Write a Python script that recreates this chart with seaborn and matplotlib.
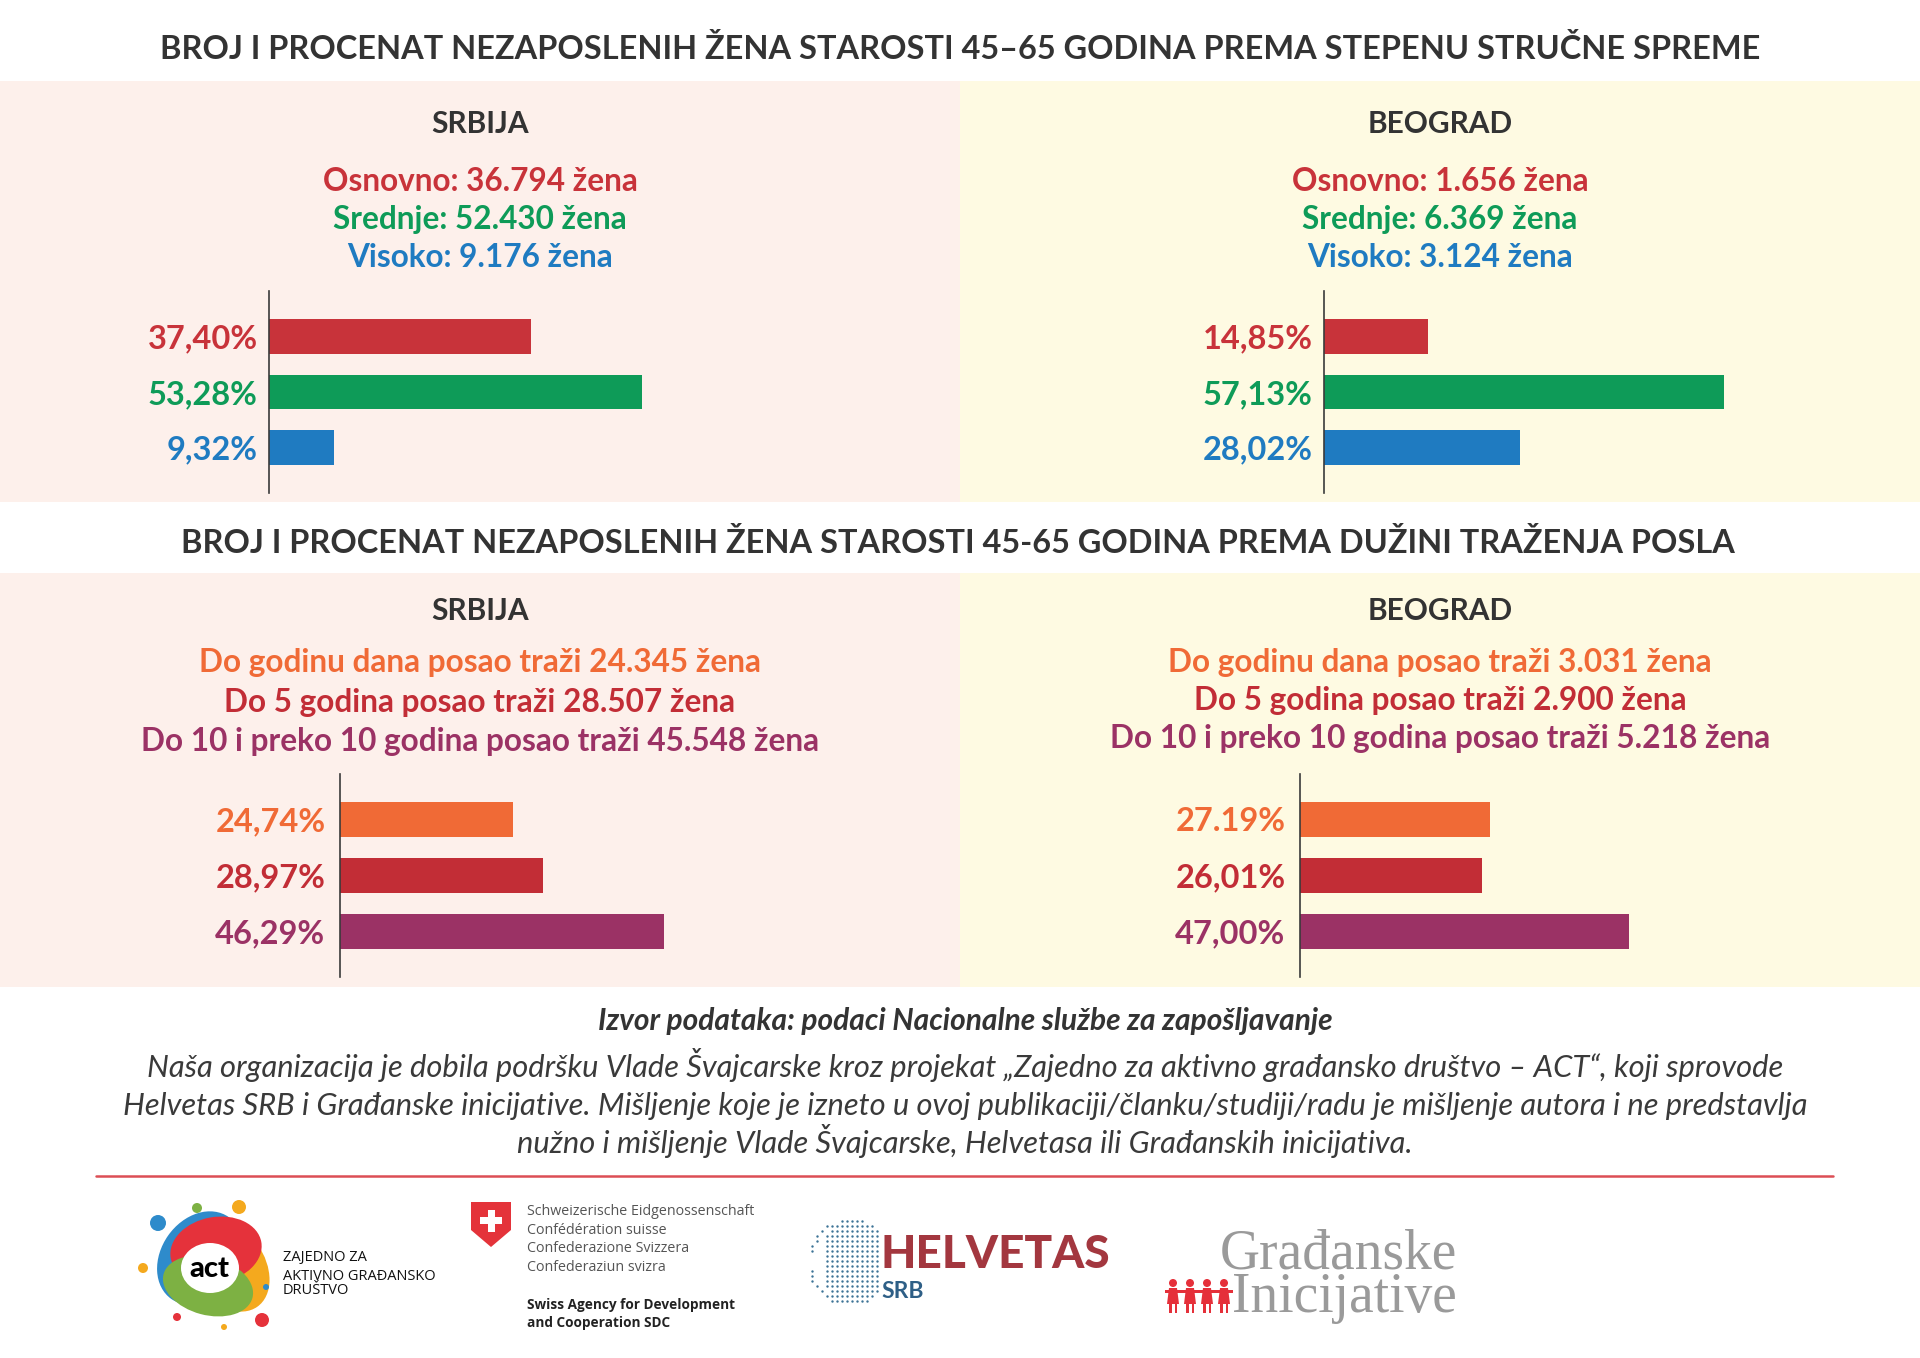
import numpy as np
import seaborn as sns
import matplotlib.pyplot as plt
from matplotlib.patches import Rectangle, Ellipse, Polygon, Circle

# ---- data ----
edu_names = ["Osnovno", "Srednje", "Visoko"]
edu_count_srb = ["36.794", "52.430", "9.176"]
edu_count_bg = ["1.656", "6.369", "3.124"]
edu_pct_srb = [37.40, 53.28, 9.32]
edu_pct_bg = [14.85, 57.13, 28.02]
edu_lab_srb = ["37,40%", "53,28%", "9,32%"]
edu_lab_bg = ["14,85%", "57,13%", "28,02%"]

dur_names = ["Do godinu dana posao traži", "Do 5 godina posao traži",
             "Do 10 i preko 10 godina posao traži"]
dur_count_srb = ["24.345", "28.507", "45.548"]
dur_count_bg = ["3.031", "2.900", "5.218"]
dur_pct_srb = [24.74, 28.97, 46.29]
dur_pct_bg = [27.19, 26.01, 47.00]
dur_lab_srb = ["24,74%", "28,97%", "46,29%"]
dur_lab_bg = ["27.19%", "26,01%", "47,00%"]

title_edu = "BROJ I PROCENAT NEZAPOSLENIH ŽENA STAROSTI 45–65 GODINA PREMA STEPENU STRUČNE SPREME"
title_dur = "BROJ I PROCENAT NEZAPOSLENIH ŽENA STAROSTI 45-65 GODINA PREMA DUŽINI TRAŽENJA POSLA"
source = "Izvor podataka: podaci Nacionalne službe za zapošljavanje"
disclaimer = [
    "Naša organizacija je dobila podršku Vlade Švajcarske kroz projekat „Zajedno za aktivno građansko društvo – ACT“, koji sprovode",
    "Helvetas SRB i Građanske inicijative. Mišljenje koje je izneto u ovoj publikaciji/članku/studiji/radu je mišljenje autora i ne predstavlja",
    "nužno i mišljenje Vlade Švajcarske, Helvetasa ili Građanskih inicijativa.",
]

RED = "#C8333A"
GREEN = "#0E9B58"
BLUE = "#1F7BC1"
ORANGE = "#F06A36"
DRED = "#C22D36"
PURPLE = "#9B3265"
DARK = "#333333"
edu_colors = [RED, GREEN, BLUE]
dur_colors = [ORANGE, DRED, PURPLE]

sns.set_theme(style="white")
plt.rcParams["font.family"] = ["Lato", "DejaVu Sans"]

W, H = 1920, 1358
fig = plt.figure(figsize=(W / 100, H / 100), dpi=100)
fig.patch.set_facecolor("white")

# full-figure axes in pixel coordinates for panels, text and logos
deco = fig.add_axes([0, 0, 1, 1])
deco.set_xlim(0, W)
deco.set_ylim(H, 0)
deco.axis("off")

# background panels
for y0, y1 in [(81, 502), (573, 987)]:
    deco.add_patch(Rectangle((0, y0), 960, y1 - y0, color="#FDF0EB", lw=0))
    deco.add_patch(Rectangle((960, y0), 960, y1 - y0, color="#FEFAE2", lw=0))

deco.text(960, 59, title_edu, ha="center", va="baseline", fontsize=23.4,
          fontweight="bold", color=DARK)
deco.text(958, 553, title_dur, ha="center", va="baseline", fontsize=23.4,
          fontweight="bold", color=DARK)

for cx, region in [(480, "SRBIJA"), (1440, "BEOGRAD")]:
    deco.text(cx, 133, region, ha="center", va="baseline", fontsize=21.5,
              fontweight="bold", color=DARK)
    deco.text(cx, 620, region, ha="center", va="baseline", fontsize=21.5,
              fontweight="bold", color=DARK)

edu_counts = {480: edu_count_srb, 1440: edu_count_bg}
for cx, counts in edu_counts.items():
    for name, cnt, col, yb in zip(edu_names, counts, edu_colors, [191, 229, 267]):
        deco.text(cx, yb, f"{name}: {cnt} žena", ha="center", va="baseline",
                  fontsize=22.7, fontweight="bold", color=col)

dur_counts = {480: (dur_count_srb, [672, 712, 751]), 1440: (dur_count_bg, [672, 710, 748])}
for cx, (counts, ys) in dur_counts.items():
    for name, cnt, col, yb in zip(dur_names, counts, dur_colors, ys):
        deco.text(cx, yb, f"{name} {cnt} žena", ha="center", va="baseline",
                  fontsize=22.8, fontweight="bold", color=col)


def bar_chart(axis_x, top, bottom, pct, labels, colors, pad):
    ax = fig.add_axes([axis_x / W, 1 - bottom / H, 560 / W, (bottom - top) / H])
    ax.set_facecolor("none")
    sns.barplot(x=pct, y=labels, hue=labels, palette=colors, legend=False,
                orient="h", width=0.625, saturation=1, linewidth=0, ax=ax)
    ax.set_xlim(0, 80)
    ax.set_ylim(2.81, -0.81)
    ax.set_xticks([])
    ax.set_xlabel("")
    ax.set_ylabel("")
    for s in ["top", "right", "bottom"]:
        ax.spines[s].set_visible(False)
    ax.spines["left"].set_color("#3a3a3a")
    ax.spines["left"].set_linewidth(1.2)
    ax.tick_params(axis="y", length=0, pad=pad)
    for t, c in zip(ax.get_yticklabels(), colors):
        t.set_color(c)
        t.set_fontsize(23.5)
        t.set_fontweight("bold")
    return ax


bar_chart(269, 291, 493, edu_pct_srb, edu_lab_srb, edu_colors, 8)
bar_chart(1324, 291, 493, edu_pct_bg, edu_lab_bg, edu_colors, 8)
bar_chart(340, 774, 977, dur_pct_srb, dur_lab_srb, dur_colors, 10.5)
bar_chart(1300, 774, 977, dur_pct_bg, dur_lab_bg, dur_colors, 10.5)

# source + disclaimer
deco.text(965, 1030, source, ha="center", va="baseline", fontsize=21.5,
          fontweight="bold", style="italic", color=DARK)
for line, yb in zip(disclaimer, [1077, 1115, 1153]):
    deco.text(965, yb, line, ha="center", va="baseline", fontsize=22.2,
              style="italic", fontweight="normal", color="#3a3a3a")

deco.plot([96, 1833], [1176, 1176], color="#DC4E55", lw=1.8)

# ---- logos (rough) ----
# ACT
deco.add_patch(Ellipse((200, 1258), 78, 100, angle=35, color="#2E8BCB", lw=0))
deco.add_patch(Ellipse((228, 1265), 72, 102, angle=-35, color="#F4A91E", lw=0))
deco.add_patch(Ellipse((216, 1250), 92, 66, angle=-10, color="#E5323B", lw=0))
deco.add_patch(Ellipse((208, 1286), 92, 58, angle=15, color="#7DB143", lw=0))
deco.add_patch(Ellipse((210, 1268), 58, 50, color="white", lw=0))
deco.text(209, 1277, "act", ha="center", va="baseline", fontsize=21,
          fontweight="black", color="black")
for (x, y, r, c) in [(158, 1223, 8, "#2E8BCB"), (197, 1208, 5, "#7DB143"),
                     (239, 1207, 7, "#F4A91E"), (143, 1268, 5, "#F4A91E"),
                     (266, 1287, 3, "#2E8BCB"), (177, 1317, 4, "#E5323B"),
                     (224, 1327, 3, "#F4A91E"), (262, 1320, 7, "#E5323B")]:
    deco.add_patch(Circle((x, y), r, color=c, lw=0))
for line, yb in zip(["ZAJEDNO ZA", "AKTIVNO GRAĐANSKO", "DRUŠTVO"], [1261, 1280, 1294]):
    deco.text(283, yb, line, ha="left", va="baseline", fontsize=10.5,
              family=["Open Sans", "DejaVu Sans"], color="#111111")

# Swiss shield + text
deco.add_patch(Polygon([(471, 1202), (511, 1202), (511, 1230), (491, 1247), (471, 1230)],
                       closed=True, color="#E4333A", lw=0))
deco.add_patch(Rectangle((480, 1217), 22, 7, color="white", lw=0))
deco.add_patch(Rectangle((487.5, 1209.5), 7, 22, color="white", lw=0))
for line, yb in zip(["Schweizerische Eidgenossenschaft", "Confédération suisse",
                     "Confederazione Svizzera", "Confederaziun svizra"],
                    [1215, 1234, 1252, 1271]):
    deco.text(527, yb, line, ha="left", va="baseline", fontsize=10.3,
              family=["Open Sans", "DejaVu Sans"], color="#555555")
for line, yb in zip(["Swiss Agency for Development", "and Cooperation SDC"], [1309, 1327]):
    deco.text(527, yb, line, ha="left", va="baseline", fontsize=9.8,
              fontweight="bold", family=["Open Sans", "DejaVu Sans"], color="#222222")

# Helvetas globe dots
gx, gy = np.meshgrid(np.arange(802, 882, 5), np.arange(1221, 1305, 5))
gx, gy = gx.ravel(), gy.ravel()
rr = (gx - 850) ** 2 + (gy - 1262) ** 2
inside = (rr < 43 ** 2) & ((gx > 822 + 0.006 * (gy - 1262) ** 2) | (rr > 39 ** 2))
deco.scatter(gx[inside], gy[inside], s=3, color="#3C7396", lw=0)
deco.text(881, 1268, "HELVETAS", ha="left", va="baseline", fontsize=33,
          fontweight="black", color="#A3373F")
deco.text(881, 1298, "SRB", ha="left", va="baseline", fontsize=16.5,
          fontweight="bold", color="#2E5F86")

# Gradjanske inicijative (one text block, right aligned)
deco.text(1457, 1312, "Građanske\nInicijative", ha="right", va="baseline",
          multialignment="right", linespacing=0.78, fontsize=40,
          family=["Liberation Serif", "DejaVu Serif"], color="#9A9A9A")
for px in [1173, 1190, 1207, 1224]:
    deco.add_patch(Circle((px, 1283), 4, color="#E5303A", lw=0))
    deco.add_patch(Polygon([(px - 4, 1288), (px + 4, 1288), (px + 6, 1304), (px - 6, 1304)],
                           closed=True, color="#E5303A", lw=0))
    deco.add_patch(Rectangle((px - 4, 1304), 2.5, 9, color="#E5303A", lw=0))
    deco.add_patch(Rectangle((px + 1.5, 1304), 2.5, 9, color="#E5303A", lw=0))
deco.add_patch(Rectangle((1165, 1290), 68, 3, color="#E5303A", lw=0))

fig.savefig("out.png", dpi=100)
